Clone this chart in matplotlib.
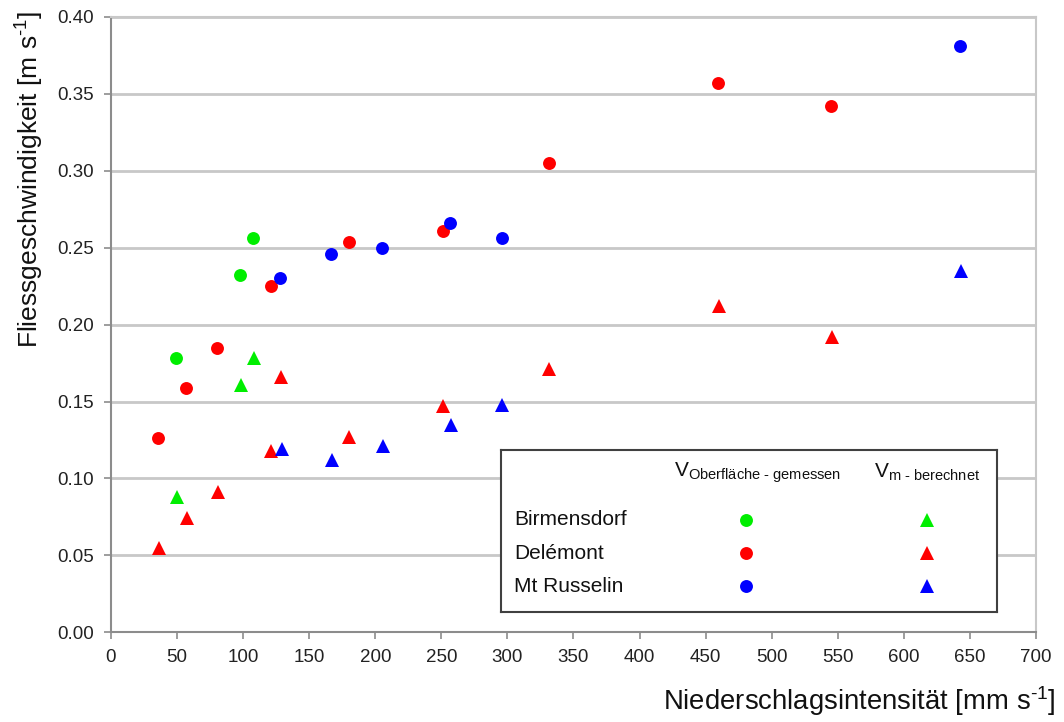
import matplotlib
matplotlib.use("Agg")
import matplotlib.pyplot as plt

plt.rcParams['font.family'] = ['Liberation Sans', 'DejaVu Sans']
plt.rcParams['mathtext.fontset'] = 'custom'
plt.rcParams['mathtext.rm'] = 'Liberation Sans'
plt.rcParams['mathtext.it'] = 'Liberation Sans'

# Birmensdorf
bir_x_surf = [49.1, 97.9, 107.7]
bir_v_surf = [0.178, 0.232, 0.256]
bir_x_m = [49.7, 98.4, 108.0]
bir_v_m = [0.088, 0.161, 0.178]

# Delemont
del_x_surf = [35.6, 57.0, 80.5, 121.1, 180.1, 251.0, 331.5, 459.4, 545.2]
del_v_surf = [0.126, 0.159, 0.185, 0.225, 0.254, 0.261, 0.305, 0.357, 0.342]
del_x_m = [36.1, 57.5, 81.0, 121.1, 128.9, 180.4, 251.5, 331.7, 459.9, 545.6]
del_v_m = [0.055, 0.074, 0.091, 0.118, 0.166, 0.127, 0.147, 0.171, 0.212, 0.192]

# Mt Russelin
mtr_x_surf = [128.1, 166.2, 205.1, 256.5, 295.7, 642.7]
mtr_v_surf = [0.230, 0.246, 0.250, 0.266, 0.256, 0.381]
mtr_x_m = [129.2, 167.0, 205.6, 257.1, 295.9, 643.0]
mtr_v_m = [0.119, 0.112, 0.121, 0.135, 0.148, 0.235]

sites = ['Birmensdorf', 'Delémont', 'Mt Russelin']
colors = ['#00ee00', '#ff0000', '#0000ff']

fig = plt.figure(figsize=(10.64, 7.22), dpi=100)
ax = fig.add_axes([0.1043, 0.1242, 0.8694, 0.8523])

ms_c = 9.3
ms_t = 9.8
series = [
    (bir_x_surf, bir_v_surf, bir_x_m, bir_v_m),
    (del_x_surf, del_v_surf, del_x_m, del_v_m),
    (mtr_x_surf, mtr_v_surf, mtr_x_m, mtr_v_m),
]
for (xs, vs, xm, vm), c in zip(series, colors):
    ax.plot(xs, vs, 'o', color=c, ms=ms_c, mew=0, zorder=3)
    ax.plot(xm, vm, '^', color=c, ms=ms_t, mew=0, zorder=3)

ax.set_xlim(0, 700)
ax.set_ylim(0, 0.40)
ax.set_xticks(range(0, 701, 50))
ax.set_yticks([i * 0.05 for i in range(9)])
ax.set_yticklabels(['%.2f' % (i * 0.05) for i in range(9)])
ax.yaxis.grid(True, color='#c8c8c8', lw=2)
ax.set_axisbelow(True)
for s in ['left', 'bottom']:
    ax.spines[s].set_color('#8c8c8c')
    ax.spines[s].set_linewidth(1.5)
for s in ['top', 'right']:
    ax.spines[s].set_color('#c8c8c8')
    ax.spines[s].set_linewidth(1.5)
ax.tick_params(direction='out', length=5, width=1.2, color='#8c8c8c',
               labelsize=13.5, labelcolor='#222222', pad=7)

fig.text(0.028, 0.985, r'Fliessgeschwindigkeit [m s$^{\text{-1}}$]',
         rotation=90, ha='center', va='top', fontsize=19, color='#111111')
fig.text(0.992, 0.005, r'Niederschlagsintensität [mm s$^{\text{-1}}$]',
         ha='right', va='bottom', fontsize=19.8, color='#111111')

# key box in the lower right
lg = ax.inset_axes([0.4216, 0.033, 0.5364, 0.2634])
lg.set_xlim(0, 1)
lg.set_ylim(0, 1)
lg.set_xticks([])
lg.set_yticks([])
for s in lg.spines.values():
    s.set_color('#404040')
    s.set_linewidth(1.5)
lg.text(0.518, 0.86, r'V$_{\text{Oberfläche - gemessen}}$', ha='center',
        va='center', fontsize=15, color='#111111')
lg.text(0.859, 0.86, r'V$_{\text{m - berechnet}}$', ha='center',
        va='center', fontsize=15, color='#111111')
rows = [0.568, 0.364, 0.160]
for name, c, yy in zip(sites, colors, rows):
    lg.text(0.026, yy, name, ha='left', va='center', fontsize=15, color='#111111')
    lg.plot([0.494], [yy], 'o', color=c, ms=ms_c, mew=0)
    lg.plot([0.859], [yy], '^', color=c, ms=ms_t, mew=0)

fig.savefig('out.png', dpi=100)
